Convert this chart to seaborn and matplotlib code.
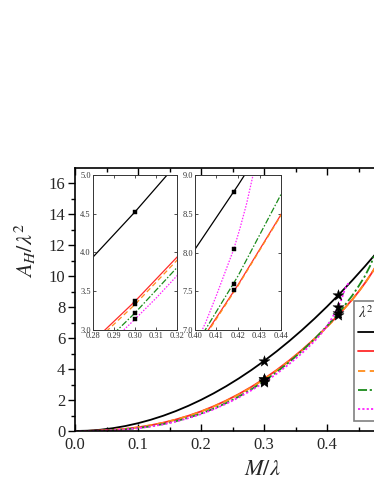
import numpy as np
import pandas as pd
import matplotlib
matplotlib.use("Agg")
import matplotlib.pyplot as plt
import seaborn as sns

# ---------------- data ----------------
x_black = [0.00, 0.02, 0.04, 0.06, 0.08, 0.10, 0.12, 0.14, 0.16, 0.18, 0.20, 0.22, 0.24,
           0.26, 0.28, 0.30, 0.32, 0.34, 0.36, 0.38, 0.40, 0.42, 0.44, 0.46, 0.48, 0.50]
y_black = [0.0, 0.020, 0.080, 0.181, 0.322, 0.503, 0.724, 0.985, 1.287, 1.629, 2.011, 2.433, 2.895,
           3.398, 3.941, 4.524, 5.147, 5.811, 6.514, 7.258, 8.042, 8.867, 9.731, 10.636, 11.581, 12.566]

x_red = [0.00, 0.02, 0.04, 0.06, 0.08, 0.10, 0.12, 0.14, 0.16, 0.18, 0.20, 0.22, 0.24, 0.26,
         0.28, 0.30, 0.32, 0.34, 0.36, 0.38, 0.40, 0.42, 0.44, 0.45, 0.46, 0.47, 0.48]
y_red = [0.0, 0.005, 0.026, 0.070, 0.139, 0.239, 0.370, 0.537, 0.741, 0.984, 1.268, 1.596, 1.968, 2.387,
         2.854, 3.37, 3.94, 4.557, 5.23, 5.957, 6.741, 7.582, 8.49, 9.00, 9.55, 10.15, 10.80]

x_orange = x_red
y_orange = [0.0, 0.005, 0.025, 0.069, 0.137, 0.236, 0.366, 0.531, 0.732, 0.972, 1.253, 1.577, 1.944, 2.358,
            2.82, 3.33, 3.90, 4.52, 5.20, 5.93, 6.72, 7.57, 8.48, 8.99, 9.54, 10.14, 10.79]

x_green = [0.00, 0.02, 0.04, 0.06, 0.08, 0.10, 0.12, 0.14, 0.16, 0.18, 0.20, 0.22, 0.24, 0.26,
           0.28, 0.30, 0.32, 0.34, 0.36, 0.38, 0.40, 0.42, 0.44, 0.45, 0.46, 0.47, 0.474]
y_green = [0.0, 0.003, 0.017, 0.050, 0.105, 0.187, 0.300, 0.447, 0.632, 0.858, 1.127, 1.442, 1.807, 2.223,
           2.693, 3.22, 3.806, 4.453, 5.163, 5.94, 6.784, 7.697, 8.75, 9.35, 10.0, 10.8, 11.29]

x_magenta = [0.00, 0.02, 0.04, 0.06, 0.08, 0.10, 0.12, 0.14, 0.16, 0.18, 0.20, 0.22, 0.24, 0.26,
             0.28, 0.29, 0.30, 0.31, 0.32, 0.34, 0.36, 0.38, 0.39, 0.40, 0.405, 0.41, 0.415, 0.418,
             0.421, 0.424, 0.427, 0.430, 0.434, 0.437]
y_magenta = [0.0, 0.003, 0.017, 0.048, 0.100, 0.180, 0.290, 0.430, 0.610, 0.830, 1.090, 1.400, 1.760, 2.170,
             2.630, 2.880, 3.140, 3.410, 3.700, 4.330, 5.020, 5.800, 6.250, 6.800, 7.100, 7.450, 7.820, 8.040,
             8.320, 8.630, 9.000, 9.320, 9.550, 9.600]

x_stars = [0.30, 0.30, 0.30, 0.30, 0.30, 0.418, 0.418, 0.418, 0.418]
y_stars = [4.52, 3.37, 3.33, 3.22, 3.14, 8.78, 8.04, 7.60, 7.51]

legend_title = r"$\lambda^2\Lambda$"
legend_labels = ["0", "0.01", "0.02", "0.05", "0.1"]

# ---------------- style ----------------
sns.set_theme(style="ticks")
plt.rcParams['font.family'] = ['Liberation Serif', 'DejaVu Serif']
plt.rcParams['mathtext.fontset'] = 'stix'

series = [
    (x_black, y_black, "black", "-", legend_labels[0]),
    (x_red, y_red, "#ff2a2a", "-", legend_labels[1]),
    (x_orange, y_orange, "#ff8c1a", (0, (4, 2.5)), legend_labels[2]),
    (x_green, y_green, "#1a8a1a", (0, (5, 1.5, 1.2, 1.5)), legend_labels[3]),
    (x_magenta, y_magenta, "#ff22ff", (0, (1.2, 1.2)), legend_labels[4]),
]

fig = plt.figure(figsize=(3.74, 4.84), dpi=100)
ax = fig.add_axes([75/374, 1-431/484, 315/374, 263/484])

for xs, ys, c, ls, lab in series:
    df = pd.DataFrame({"x": xs, "y": ys})
    sns.lineplot(data=df, x="x", y="y", ax=ax, color=c, linestyle=ls, lw=1.3,
                 label=lab, sort=False, estimator=None)

sdf = pd.DataFrame({"x": x_stars, "y": y_stars})
sns.scatterplot(data=sdf, x="x", y="y", ax=ax, marker="*", s=70, color="black",
                edgecolor="black", linewidth=0.3, zorder=5, legend=False)

ax.set_xlim(0, 0.5)
ax.set_ylim(0, 17)
ax.set_xticks([0.0, 0.1, 0.2, 0.3, 0.4, 0.5])
ax.set_xticklabels(["0.0", "0.1", "0.2", "0.3", "0.4", "0.5"])
ax.set_xticks(np.arange(0.05, 0.5, 0.1), minor=True)
ax.set_yticks(np.arange(0, 17, 2))
ax.set_yticks(np.arange(1, 17, 2), minor=True)
ax.tick_params(axis='x', which='both', direction='in', top=True, labelsize=12, pad=4, color='black')
ax.tick_params(axis='x', which='major', length=5, width=1)
ax.tick_params(axis='x', which='minor', length=3, width=1)
ax.tick_params(axis='y', which='major', direction='out', length=5, width=1, labelsize=12, pad=2, color='black')
ax.tick_params(axis='y', which='minor', direction='out', length=3, width=1, color='black')
for sp in ax.spines.values():
    sp.set_linewidth(1.2)
    sp.set_color('black')

ax.set_xlabel(r"$M/\lambda$", fontsize=16)
ax.set_ylabel(r"$A_H/\lambda^2$", fontsize=16)
ax.xaxis.set_label_coords((262-75)/315, (431-461)/263)
ax.yaxis.set_label_coords((38-75)/315, (431-250)/263)

leg = ax.legend(title=legend_title, loc="upper left",
                bbox_to_anchor=(354/374, 1-301/484), bbox_transform=fig.transFigure,
                fontsize=11, title_fontsize=11, frameon=True, fancybox=False,
                handlelength=2.2, labelspacing=0.36, borderpad=0.25, handletextpad=0.4,
                borderaxespad=0.0)
leg.get_frame().set_edgecolor("#808080")
leg.get_frame().set_linewidth(1.2)
leg.get_frame().set_alpha(1)
leg._legend_box.align = "left"

# ---------------- insets ----------------
def make_inset(rect, xlim, ylim, xt, yt):
    ia = fig.add_axes(rect)
    for xs, ys, c, ls, lab in series:
        df = pd.DataFrame({"x": xs, "y": ys})
        sns.lineplot(data=df, x="x", y="y", ax=ia, color=c, linestyle=ls, lw=0.9,
                     sort=False, estimator=None, legend=False)
    sns.scatterplot(data=sdf, x="x", y="y", ax=ia, marker="s", s=5, color="black",
                    edgecolor="black", linewidth=0.3, zorder=5, legend=False)
    ia.set_xlim(*xlim)
    ia.set_ylim(*ylim)
    ia.set_xticks(xt)
    ia.set_xticklabels([f"{v:.2f}" for v in xt])
    ia.set_yticks(yt)
    ia.set_yticklabels([f"{v:.1f}" for v in yt])
    ia.tick_params(direction='in', top=True, right=True, length=2.5, width=0.6,
                   labelsize=6, pad=1.5, colors='#333333')
    ia.set_xlabel("")
    ia.set_ylabel("")
    for sp in ia.spines.values():
        sp.set_linewidth(0.7)
        sp.set_color('#333333')
    ia.set_facecolor("white")
    return ia

make_inset([93/374, 1-330/484, 84/374, 155/484], (0.28, 0.32), (3.0, 5.0),
           [0.28, 0.29, 0.30, 0.31, 0.32], [3.0, 3.5, 4.0, 4.5, 5.0])
make_inset([195/374, 1-330/484, 86/374, 155/484], (0.40, 0.44), (7.0, 9.0),
           [0.40, 0.41, 0.42, 0.43, 0.44], [7.0, 7.5, 8.0, 8.5, 9.0])

fig.savefig("out.png", dpi=100)
